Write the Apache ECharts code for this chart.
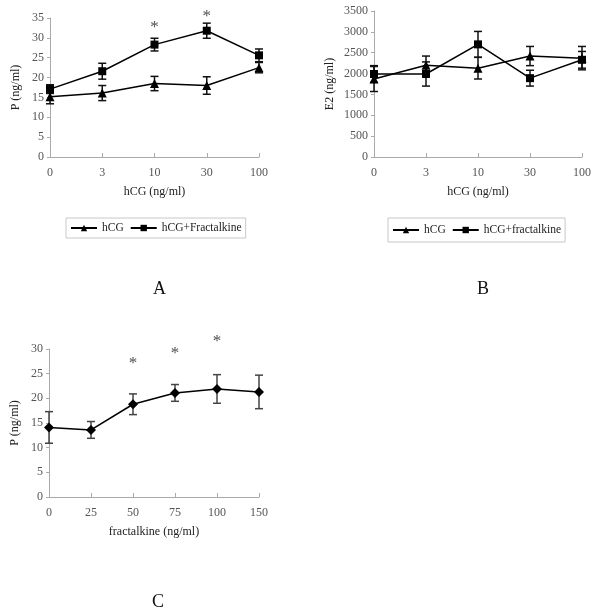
<!DOCTYPE html>
<html>
<head>
<meta charset="UTF-8">
<title>P and E2 response</title>
<script src="https://cdn.jsdelivr.net/npm/echarts@6/dist/echarts.min.js"></script>
<style>
  body { margin: 0; background: #fff; }
  #main { width: 600px; height: 614px; }
</style>
</head>
<body>
<div id="main"></div>
<script>
// panel A / B categories (hCG dose)
var catsHcg = ['0', '3', '10', '30', '100'];
// panel A: P (ng/ml)
var pHcg = [15.2, 16.1, 18.5, 18.0, 22.5];
var pHcgErr = [1.8, 1.9, 1.8, 2.2, 1.3];
var pFrac = [17.1, 21.6, 28.3, 31.8, 25.6];
var pFracErr = [1.1, 2.0, 1.6, 1.9, 1.6];
var starsA = [['10', 32.6], ['30', 35.3]];
// panel B: E2 (ng/ml)
var e2Hcg = [1870, 2200, 2130, 2420, 2370];
var e2HcgErr = [300, 220, 260, 230, 280];
var e2Frac = [1990, 1990, 2700, 1890, 2330];
var e2FracErr = [200, 290, 310, 190, 200];
// panel C: fractalkine dose
var catsFk = ['0', '25', '50', '75', '100', '150'];
var pFk = [14.1, 13.6, 18.8, 21.1, 21.9, 21.3];
var pFkErr = [3.2, 1.7, 2.1, 1.7, 2.9, 3.4];
var starsC = [['50', 27.0], ['75', 29.1], ['100', 31.6]];

var font = '"Liberation Serif", "Times New Roman", serif';
var axisGray = '#aaaaaa';
var labelGray = '#555';

function errData(vals, errs) {
  return vals.map(function (v, i) { return [i, v - errs[i], v + errs[i]]; });
}

function errSeries(xi, vals, errs, color) {
  return {
    type: 'custom',
    xAxisIndex: xi, yAxisIndex: xi,
    silent: true,
    z: 1,
    data: errData(vals, errs),
    renderItem: function (params, api) {
      var lo = api.coord([api.value(0), api.value(1)]);
      var hi = api.coord([api.value(0), api.value(2)]);
      var w = 4;
      var st = { stroke: color, lineWidth: 1.5 };
      return {
        type: 'group',
        children: [
          { type: 'line', shape: { x1: lo[0], y1: lo[1], x2: hi[0], y2: hi[1] }, style: st },
          { type: 'line', shape: { x1: lo[0] - w, y1: lo[1], x2: lo[0] + w, y2: lo[1] }, style: st },
          { type: 'line', shape: { x1: hi[0] - w, y1: hi[1], x2: hi[0] + w, y2: hi[1] }, style: st }
        ]
      };
    }
  };
}

function lineSeries(name, xi, vals, symbol, size) {
  return {
    name: name, type: 'line',
    xAxisIndex: xi, yAxisIndex: xi,
    data: vals,
    symbol: symbol, symbolSize: size,
    itemStyle: { color: '#000' },
    lineStyle: { color: '#000', width: 1.5 },
    z: 3
  };
}

function starSeries(xi, stars) {
  return {
    type: 'scatter',
    xAxisIndex: xi, yAxisIndex: xi,
    data: stars,
    symbolSize: 0,
    clip: false,
    silent: true,
    label: { show: true, position: 'inside', formatter: '*', color: '#222', fontSize: 17, fontFamily: font }
  };
}

function xAx(gi, cats, name) {
  return {
    type: 'category', gridIndex: gi, data: cats, boundaryGap: false,
    name: name, nameLocation: 'middle', nameGap: 29,
    nameTextStyle: { color: '#222', fontSize: 12, fontFamily: font },
    axisLine: { lineStyle: { color: axisGray } },
    axisTick: { inside: true, length: 4, lineStyle: { color: axisGray }, alignWithLabel: true },
    axisLabel: { color: labelGray, fontSize: 12, fontFamily: font, margin: 10 },
    splitLine: { show: false }
  };
}

function yAx(gi, max, interval, name, gap) {
  return {
    type: 'value', gridIndex: gi, min: 0, max: max, interval: interval,
    name: name, nameLocation: 'middle', nameGap: gap, nameRotate: 90,
    nameTextStyle: { color: '#222', fontSize: 12, fontFamily: font },
    axisLine: { show: true, lineStyle: { color: axisGray } },
    axisTick: { show: true, length: 3, lineStyle: { color: axisGray } },
    axisLabel: {
      color: labelGray, fontSize: 12, fontFamily: font, margin: 6,
      formatter: function (v) { return String(v); }
    },
    splitLine: { show: false }
  };
}

function legendBox(names, left, pad) {
  return {
    data: names, left: left, top: 218,
    itemWidth: 26, itemHeight: 8, itemGap: 6, padding: pad,
    borderColor: '#c8c8c8', borderWidth: 1, borderRadius: 0,
    selectedMode: false,
    textStyle: { color: '#222', fontSize: 11.5, fontFamily: font }
  };
}

var chart = echarts.init(document.getElementById('main'));
chart.setOption({
  animation: false,
  backgroundColor: '#fff',
  title: [
    { text: 'A', left: 148, top: 275, textStyle: { fontSize: 18, fontWeight: 'normal', fontFamily: font, color: '#111' } },
    { text: 'B', left: 472, top: 275, textStyle: { fontSize: 18, fontWeight: 'normal', fontFamily: font, color: '#111' } },
    { text: 'C', left: 147, top: 588, textStyle: { fontSize: 18, fontWeight: 'normal', fontFamily: font, color: '#111' } }
  ],
  legend: [
    legendBox(['hCG', 'hCG+Fractalkine'], 66, [4, 4]),
    legendBox(['hCG', 'hCG+fractalkine'], 388, [6, 4])
  ],
  grid: [
    { left: 50, top: 18, width: 209, height: 139 },
    { left: 374, top: 11, width: 208, height: 146 },
    { left: 49, top: 349, width: 210, height: 148 }
  ],
  xAxis: [
    xAx(0, catsHcg, 'hCG (ng/ml)'),
    xAx(1, catsHcg, 'hCG (ng/ml)'),
    xAx(2, catsFk, 'fractalkine (ng/ml)')
  ],
  yAxis: [
    yAx(0, 35, 5, 'P (ng/ml)', 28),
    yAx(1, 3500, 500, 'E2 (ng/ml)', 38),
    yAx(2, 30, 5, 'P (ng/ml)', 28)
  ],
  series: [
    errSeries(0, pHcg, pHcgErr, '#111'),
    errSeries(0, pFrac, pFracErr, '#111'),
    lineSeries('hCG', 0, pHcg, 'triangle', 9),
    lineSeries('hCG+Fractalkine', 0, pFrac, 'rect', 8),
    starSeries(0, starsA),
    errSeries(1, e2Hcg, e2HcgErr, '#111'),
    errSeries(1, e2Frac, e2FracErr, '#111'),
    lineSeries('hCG', 1, e2Hcg, 'triangle', 9),
    lineSeries('hCG+fractalkine', 1, e2Frac, 'rect', 8),
    errSeries(2, pFk, pFkErr, '#444'),
    lineSeries('fractalkine', 2, pFk, 'diamond', 10),
    starSeries(2, starsC)
  ]
});
</script>
</body>
</html>
